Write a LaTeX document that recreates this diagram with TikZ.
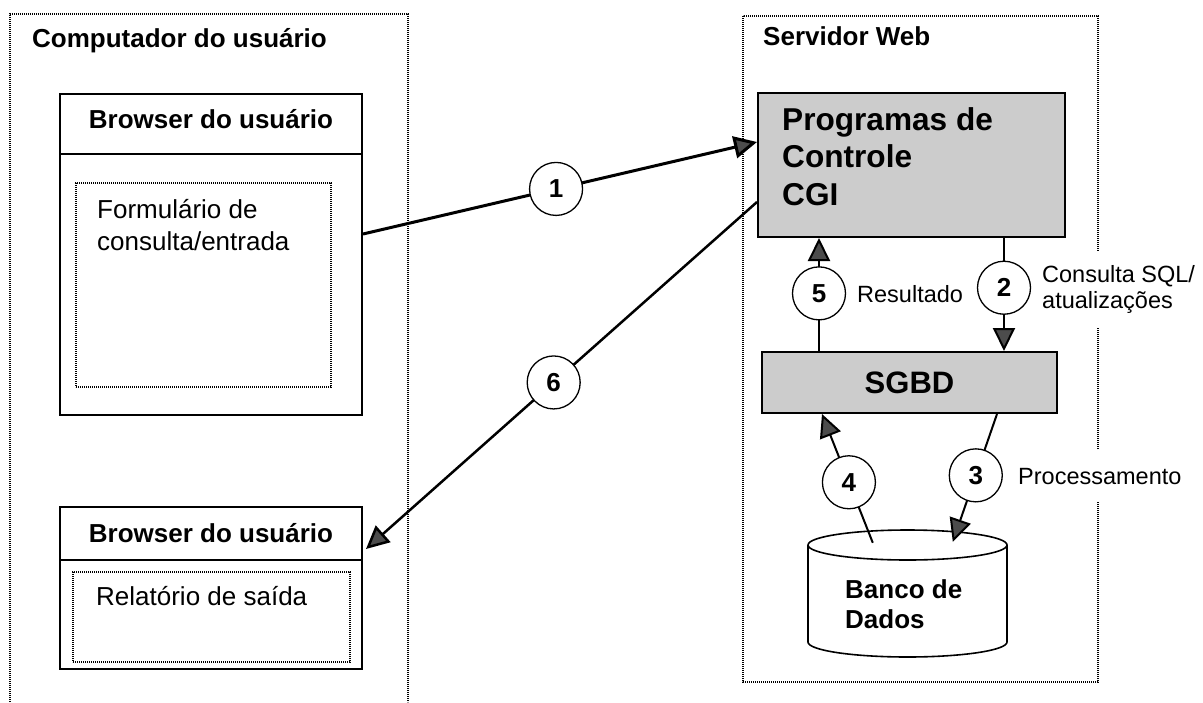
\documentclass[tikz,border=0pt]{standalone}
\usepackage{fontspec}
\setmainfont{Liberation Sans}
\usetikzlibrary{arrows.meta,calc}

\tikzset{
  frameline/.style={line width=1.3pt, dash pattern=on 1.1pt off 0.9pt},
  panel/.style={draw, line width=2pt, inner sep=0pt},
  slot/.style={draw, line width=1.3pt, dash pattern=on 1.1pt off 0.9pt, inner sep=0pt},
  proc/.style={draw, line width=2pt, fill=black!20, inner sep=0pt},
  num/.style={circle, draw, line width=1.3pt, fill=white, minimum size=53pt, inner sep=0pt,
    font=\fontsize{26}{26}\selectfont\bfseries},
  flow/.style={line width=2pt, -{Triangle[length=23pt,width=22pt,fill=black!70]}},
  heading/.style={font=\fontsize{26}{31}\selectfont\bfseries, anchor=base west, inner sep=0pt},
  plain/.style={font=\fontsize{26}{32}\selectfont, anchor=base west, inner sep=0pt, align=left},
  lbl/.style={font=\fontsize{23.5}{26}\selectfont, fill=white, inner xsep=2pt, align=left},
}

\begin{document}
\begin{tikzpicture}[x=1pt,y=-1pt]
\useasboundingbox (0,0) rectangle (1203,702);

% client machine frame (runs past the lower edge)
\draw[frameline] (10,702) -- (10,14) -- (408,14) -- (408,702);
\node[heading] (clientTitle) at (32,47) {Computador do usuário};

% server frame
\draw[frameline] (743,16) rectangle (1098,682);
\node[heading] (serverTitle) at (763,45) {Servidor Web};

% upper browser window
\node[panel, minimum width=302pt, minimum height=321pt] (b1) at (211,254.5) {};
\draw[line width=2pt] ($(b1.north west)+(0,61)$) -- ($(b1.north east)+(0,61)$);
\node[heading, anchor=base] (b1title) at (211,128) {Browser do usuário};
\node[slot, minimum width=255pt, minimum height=204pt] (s1) at (203.5,285) {};
% multi-line nodes: the base anchor sits on the last line
\node[plain] (formText) at (97,250) {Formulário de\\consulta/entrada};

% lower browser window
\node[panel, minimum width=302pt, minimum height=162pt] (b2) at (211,588) {};
\draw[line width=2pt] ($(b2.north west)+(0,54)$) -- ($(b2.north east)+(0,54)$);
\node[heading, anchor=base] (b2title) at (211,542) {Browser do usuário};
\node[slot, minimum width=277pt, minimum height=90pt] (s2) at (211.5,617) {};
\node[plain] (reportText) at (96,605) {Relatório de saída};

% CGI programs
\node[proc, minimum width=307pt, minimum height=144pt] (cgi) at (911.5,165) {};
\node[font=\fontsize{31.6}{37.5}\selectfont\bfseries, anchor=base west, inner sep=0pt, align=left]
  (cgiText) at (782,205) {Programas de\\Controle\\CGI};

% DBMS
\node[proc, minimum width=295pt, minimum height=61pt, font=\fontsize{31}{31}\selectfont\bfseries]
  (sgbd) at (909.5,382.5) {SGBD};

% database cylinder
\node[inner sep=0pt, minimum width=199pt, minimum height=127pt] (db) at (907.5,593.5) {};
\draw[line width=1.6pt, fill=white]
  (808,545) -- (808,642) arc (180:0:99.5 and 15) -- (1007,545);
\draw[line width=1.6pt] (907.5,545) ellipse (99.5 and 15);
\node[font=\fontsize{26}{30}\selectfont\bfseries, anchor=base west, inner sep=0pt, align=left]
  (dbText) at (845,628) {Banco de\\Dados};

% connector end points
\coordinate (p1a) at ($(b1.north east)+(0,141)$);
\coordinate (p1b) at ($(cgi.north west)+(0,50)$);
\coordinate (p6a) at ($(cgi.north west)+(0,110)$);
\coordinate (p6b) at ($(b2.north east)+(3,43)$);
\coordinate (p2a) at ($(cgi.south west)+(247,0)$);
\coordinate (p2b) at ($(sgbd.north west)+(243,0)$);
\coordinate (p5a) at ($(sgbd.north west)+(58,0)$);
\coordinate (p5b) at ($(cgi.south west)+(62,0)$);
\coordinate (p4a) at ($(db.north west)+(65,13)$);
\coordinate (p4b) at ($(sgbd.south west)+(61,0)$);
\coordinate (p3a) at ($(sgbd.south west)+(236,0)$);
\coordinate (p3b) at ($(db.north west)+(145,12)$);

% numbered flows
\draw[flow, line width=3pt] (p1a) -- node[num, pos=0.49] (n1) {1} (p1b);
\draw[flow, line width=2.5pt] (p6a) -- node[num, pos=0.52] (n6) {6} (p6b);
\draw[flow] (p2a) -- node[num, pos=0.44] (n2) {2} (p2b);
\draw[flow] (p5a) -- node[num, pos=0.51] (n5) {5} (p5b);
\draw[flow] (p4a) -- node[num, pos=0.47] (n4) {4} (p4b);
\draw[flow] (p3a) -- node[num, pos=0.48] (n3) {3} (p3b);

% flow labels
\node[lbl, anchor=base west, inner ysep=2pt] (resLbl) at (855,302) {Resultado};
\node[lbl, anchor=north west, inner ysep=14pt] (sqlLbl) at (1040,251) {Consulta SQL/\\atualizações};
\node[lbl, anchor=base west, inner ysep=18pt] (procLbl) at (1016,484) {Processamento};
\end{tikzpicture}
\end{document}
